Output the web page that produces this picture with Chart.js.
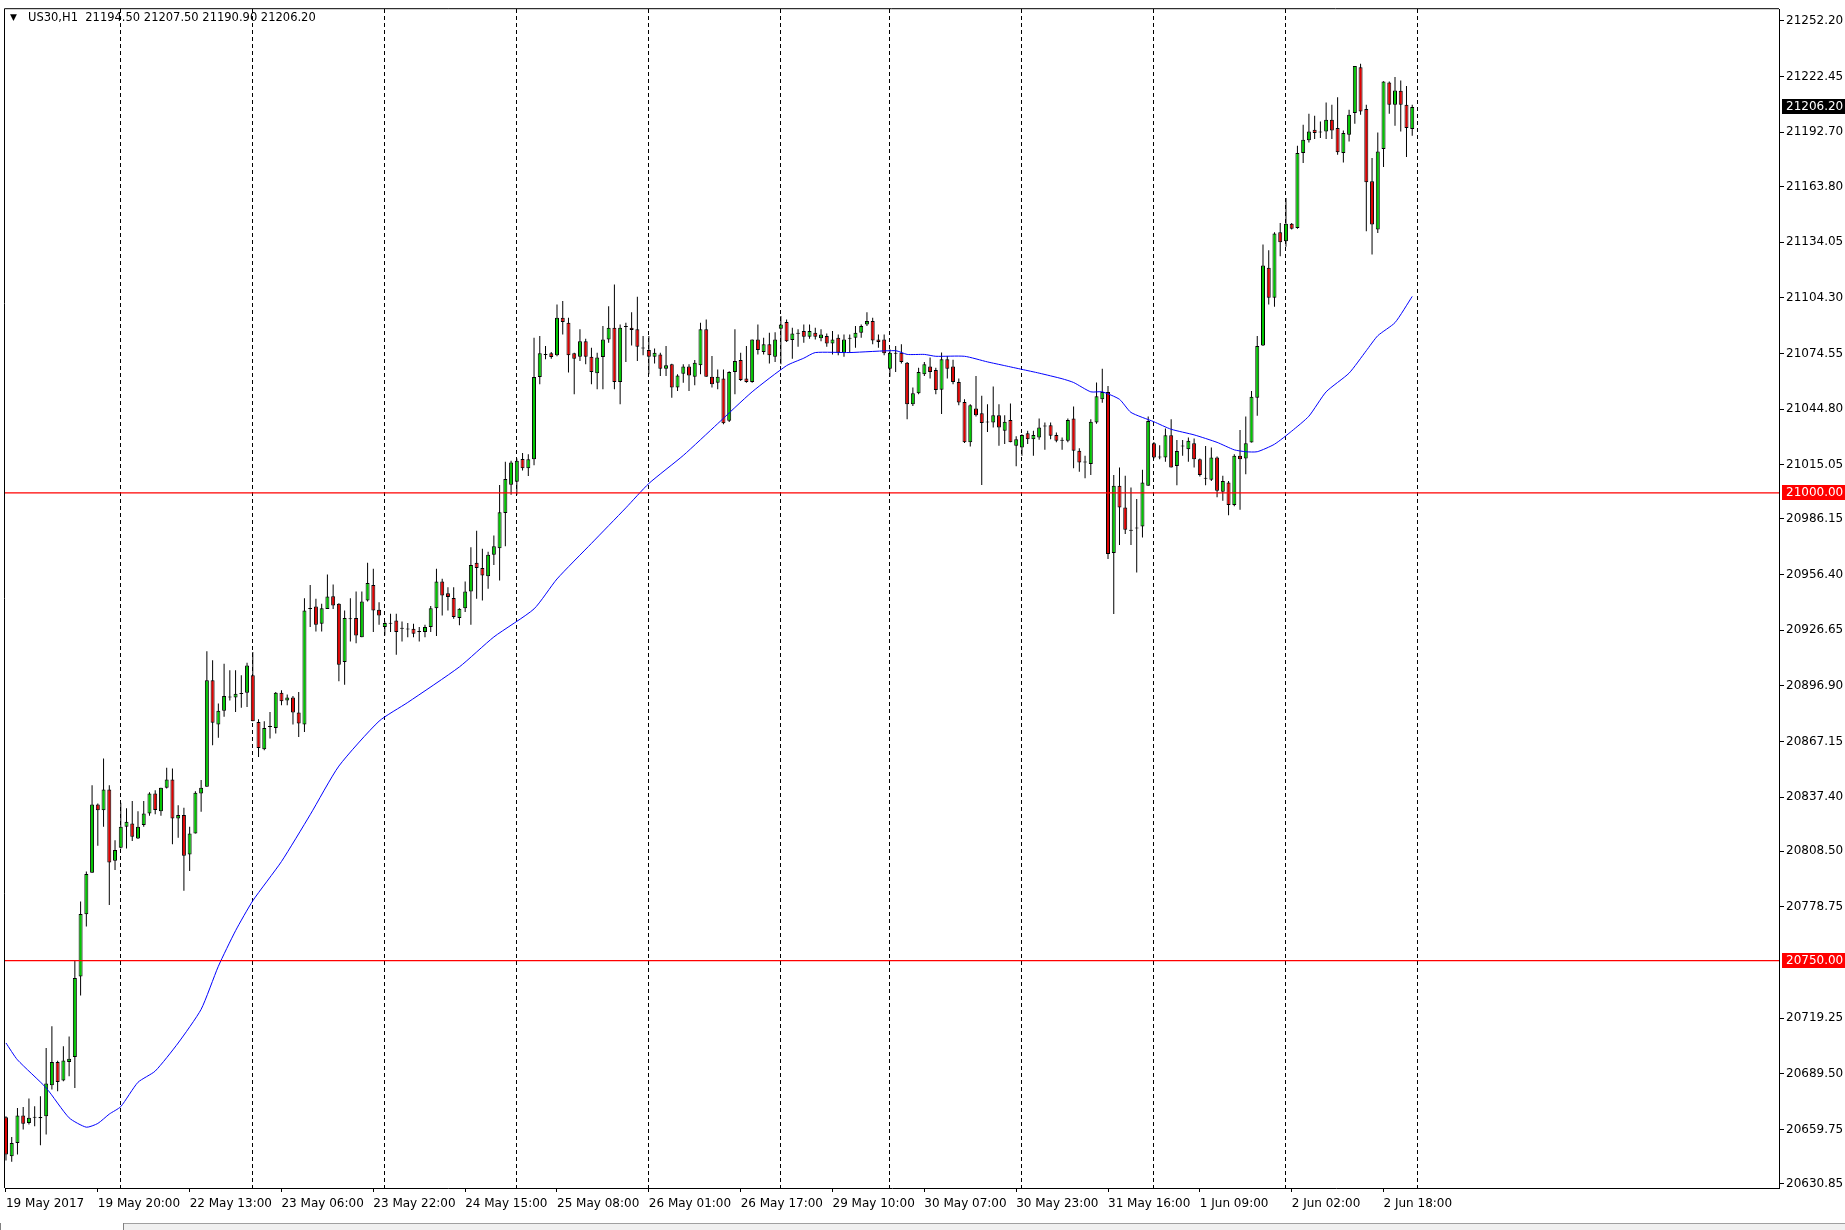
<!DOCTYPE html>
<html><head><meta charset="utf-8">
<script src="https://cdn.jsdelivr.net/npm/chart.js@4.4.1/dist/chart.umd.min.js"></script>
<style>
html,body{margin:0;padding:0;background:#fff;overflow:hidden;}
#wrap{position:relative;width:1845px;height:1230px;}
canvas{position:absolute;left:0;top:0;}
#tabs{position:absolute;left:0;top:1223px;width:1845px;height:7px;background:#f0f0f0;border-top:1px solid #a0a0a0;}
#tab1{position:absolute;left:0;top:1223px;width:122px;height:7px;background:#fff;border:1px solid #808080;border-top:none;}
</style></head><body>
<div id="wrap"><canvas id="c" width="1845" height="1230"></canvas><div id="tabs"></div><div id="tab1"></div></div>
<script>
const symbolTitle = "US30,H1";
const opens = [20666.3,20645.5,20652.6,20667.2,20663.3,20666.0,20666.5,20666.9,20683.4,20695.8,
20685.9,20695.8,20698.5,20741.5,20774.8,20797.0,20833.5,20830.4,20841.5,20803.4,
20810.4,20821.6,20823.3,20815.3,20822.5,20828.7,20839.4,20829.9,20842.4,20846.8,
20826.0,20827.8,20806.8,20818.0,20839.4,20842.9,20899.8,20876.2,20883.5,20890.6,
20890.6,20892.5,20893.2,20902.5,20877.6,20863.0,20874.9,20874.4,20893.2,20889.0,
20890.7,20882.6,20876.2,20938.0,20939.3,20930.0,20938.0,20944.8,20940.7,20909.6,
20932.4,20933.1,20922.9,20942.5,20950.8,20937.5,20928.3,20930.0,20931.8,20927.4,
20927.0,20927.4,20925.6,20925.6,20928.3,20938.4,20952.6,20946.4,20943.8,20933.1,
20938.4,20947.3,20962.6,20959.8,20955.5,20966.9,20970.4,20989.3,21004.4,21006.0,
21018.1,21013.1,21018.0,21061.9,21073.7,21074.6,21073.5,21093.6,21090.9,21074.6,
21072.8,21081.1,21072.8,21063.9,21072.6,21082.0,21088.3,21059.3,21088.6,21088.3,
21087.4,21077.2,21076.3,21072.8,21074.0,21066.4,21068.7,21056.3,21063.7,21067.5,
21062.1,21068.2,21087.4,21062.1,21058.9,21061.1,21038.5,21064.6,21071.0,21061.1,
21059.3,21082.0,21075.3,21079.4,21072.8,21087.7,21091.3,21081.7,21085.1,21086.5,
21083.5,21085.6,21082.6,21083.8,21079.9,21082.9,21074.9,21082.4,21082.9,21085.6,
21090.0,21091.8,21082.0,21082.0,21066.4,21074.4,21074.9,21069.6,21047.4,21053.2,
21063.4,21067.5,21065.7,21055.1,21071.4,21067.5,21059.3,21048.6,21027.0,21045.1,
21042.6,21037.6,21037.6,21041.5,21033.2,21038.9,21025.2,21024.3,21031.9,21028.7,
21029.6,21035.5,21036.2,21030.9,21027.8,21027.8,21039.8,21022.5,21016.3,21015.4,
21037.6,21050.0,21053.9,20967.9,21003.8,20992.2,20979.8,20981.0,20982.1,21003.8,
21026.5,21018.9,21018.9,21030.8,21014.4,21024.8,21023.3,21026.5,21018.0,21007.6,
21007.0,21018.9,21000.6,21005.6,20993.5,21019.8,21018.4,21026.9,21050.9,21078.8,
21120.3,21104.3,21139.3,21134.5,21143.9,21141.6,21181.6,21188.4,21194.1,21192.6,
21193.2,21199.4,21195.0,21181.6,21191.4,21203.0,21227.5,21205.1,21166.5,21140.7,
21183.8,21219.3,21207.4,21214.9,21207.4,21194.5];
const highs = [20666.9,20655.7,20671.3,20671.8,20676.3,20672.2,20677.5,20703.3,20714.9,20696.5,
20704.2,20709.5,20750.4,20781.6,20797.6,20843.8,20834.0,20858.0,20843.8,20814.4,
20834.4,20831.4,20835.3,20829.9,20835.3,20840.0,20841.1,20842.4,20853.1,20852.7,
20833.1,20831.7,20821.6,20840.6,20846.5,20915.3,20910.5,20887.4,20908.7,20905.2,
20905.2,20902.5,20909.2,20914.9,20879.0,20877.9,20882.9,20893.6,20894.5,20892.2,
20891.4,20893.6,20943.7,20950.8,20943.4,20940.7,20956.4,20951.0,20941.0,20937.1,
20943.7,20947.3,20947.3,20962.6,20959.4,20941.6,20931.3,20935.4,20935.4,20931.3,
20930.4,20930.1,20928.3,20929.5,20939.5,20959.4,20954.1,20949.6,20949.6,20938.4,
20952.6,20971.0,20979.8,20970.1,20968.6,20977.2,21004.2,21016.7,21017.2,21018.4,
21021.3,21020.7,21082.9,21083.8,21078.5,21075.3,21100.7,21102.5,21093.6,21074.9,
21087.4,21082.4,21077.6,21074.9,21089.2,21099.8,21111.4,21090.0,21090.9,21096.6,
21104.8,21083.8,21083.8,21077.1,21074.9,21078.5,21069.0,21063.4,21068.7,21068.7,
21071.0,21090.9,21092.7,21073.1,21066.0,21066.0,21065.0,21087.4,21074.9,21078.5,
21082.0,21090.0,21082.9,21085.6,21085.9,21094.5,21092.7,21088.3,21087.4,21090.0,
21090.0,21088.3,21087.4,21085.2,21086.5,21084.7,21084.7,21084.7,21089.2,21090.0,
21096.6,21093.6,21084.7,21084.7,21076.7,21078.5,21079.4,21070.0,21056.3,21066.9,
21069.9,21072.3,21066.9,21075.0,21073.2,21071.1,21061.1,21050.1,21047.4,21062.5,
21051.9,21047.4,21056.8,21047.4,21041.5,21047.8,21030.2,21031.4,21033.2,21033.2,
21039.8,21037.6,21037.6,21032.3,21029.6,21039.8,21046.2,21023.8,21019.8,21039.4,
21059.0,21066.4,21057.1,21009.5,21013.6,21009.1,21002.9,20996.7,21012.3,21040.8,
21027.2,21025.5,21034.4,21039.3,21028.3,21028.3,21029.6,21029.0,21018.4,21025.1,
21024.2,21019.4,21009.1,21006.4,21020.7,21033.6,21040.8,21054.5,21083.8,21132.7,
21129.7,21139.3,21144.3,21157.6,21144.3,21185.5,21196.7,21202.6,21201.5,21198.5,
21208.6,21207.4,21211.5,21193.7,21204.7,21228.2,21229.3,21207.4,21179.0,21192.6,
21220.0,21219.9,21222.2,21220.4,21217.5,21207.5];
const lows = [20643.2,20642.5,20646.4,20659.8,20662.4,20661.5,20651.4,20657.1,20681.1,20680.2,
20685.5,20688.2,20682.0,20731.4,20768.2,20797.0,20811.4,20821.6,20779.8,20798.4,
20810.0,20810.0,20813.9,20815.0,20821.6,20827.4,20828.2,20827.4,20842.0,20812.2,
20815.7,20787.3,20797.9,20818.0,20829.6,20842.9,20865.1,20869.1,20880.3,20889.1,
20882.9,20885.1,20885.6,20877.9,20858.9,20862.5,20868.7,20871.4,20886.5,20886.5,
20876.2,20869.6,20872.2,20928.3,20925.9,20925.9,20938.0,20938.0,20899.3,20897.5,
20920.6,20919.7,20922.9,20942.0,20925.6,20929.5,20923.8,20925.6,20913.5,20920.6,
20922.9,20922.9,20920.6,20922.9,20925.6,20923.5,20934.5,20937.2,20932.7,20929.2,
20936.3,20929.5,20943.4,20942.5,20948.7,20961.5,20953.2,20971.5,20999.0,20999.0,
21011.9,21009.0,21014.8,21058.0,21071.4,21071.7,21073.0,21084.7,21064.3,21052.7,
21070.5,21068.7,21058.0,21055.4,21055.4,21080.3,21055.4,21047.4,21069.9,21078.8,
21070.5,21073.5,21063.4,21069.2,21062.5,21062.5,21050.9,21054.5,21058.9,21054.5,
21057.5,21063.4,21062.0,21056.3,21055.4,21036.7,21037.9,21052.7,21059.8,21058.9,
21058.9,21074.0,21074.0,21069.2,21069.9,21068.7,21080.6,21071.7,21078.1,21080.3,
21082.4,21082.0,21081.1,21078.1,21074.0,21073.5,21072.8,21074.9,21077.6,21082.9,
21089.2,21079.4,21077.6,21073.5,21062.1,21064.6,21069.2,21039.4,21046.5,21052.7,
21062.5,21061.1,21052.7,21042.1,21061.1,21058.1,21046.9,21026.6,21024.8,21040.8,
21004.2,21032.6,21035.0,21025.2,21026.1,21027.0,21014.2,21019.8,21026.1,21019.8,
21028.4,21023.0,21028.7,21027.0,21023.0,21027.0,21013.1,21011.3,21007.8,21009.5,
21037.0,21048.2,20964.7,20935.3,20972.1,20978.0,20972.1,20957.5,20976.2,21003.8,
21018.4,21018.0,21016.6,21013.6,21004.1,21019.8,21016.6,21013.6,21008.8,21004.1,
21006.4,20997.6,20995.8,20988.1,20992.8,20991.0,21010.0,21026.9,21041.2,21078.5,
21100.7,21099.5,21126.5,21131.5,21140.7,21141.1,21176.3,21187.3,21189.1,21189.6,
21189.1,21189.1,21180.7,21176.6,21187.8,21197.3,21202.1,21139.8,21127.4,21138.9,
21174.2,21202.6,21196.2,21193.2,21179.5,21190.9];
const closes = [20646.4,20652.6,20667.2,20662.8,20666.0,20666.3,20665.8,20684.3,20695.8,20685.2,
20696.7,20697.6,20740.7,20775.0,20796.3,20833.5,20830.4,20841.5,20802.5,20809.1,
20821.6,20824.2,20816.2,20821.6,20828.7,20839.4,20830.5,20842.4,20846.8,20826.0,
20827.8,20806.1,20818.0,20839.7,20842.4,20899.8,20877.2,20883.5,20891.5,20890.6,
20892.7,20893.0,20907.8,20877.9,20863.7,20874.4,20874.9,20893.2,20888.6,20890.7,
20882.6,20876.7,20937.1,20938.0,20929.5,20938.4,20944.6,20939.8,20908.2,20933.1,
20932.4,20923.8,20941.9,20951.9,20937.1,20934.5,20930.4,20930.0,20925.6,20927.4,
20927.0,20924.7,20925.6,20928.3,20938.4,20952.6,20945.2,20944.3,20933.6,20938.1,
20947.3,20961.5,20959.8,20955.8,20966.9,20971.5,20989.6,21007.4,21016.3,21017.2,
21013.1,21018.0,21061.9,21074.6,21073.7,21072.6,21093.6,21091.3,21073.5,21071.7,
21081.1,21072.8,21064.6,21072.3,21082.0,21088.3,21059.3,21088.3,21088.6,21087.0,
21078.1,21077.2,21072.8,21074.9,21066.4,21068.2,21056.3,21062.8,21067.5,21062.8,
21069.6,21087.4,21062.1,21058.0,21062.1,21037.2,21064.6,21070.5,21060.3,21059.3,
21082.0,21076.3,21079.4,21073.5,21082.0,21090.0,21081.1,21085.2,21085.1,21083.5,
21086.5,21083.5,21084.7,21079.9,21082.0,21074.9,21082.0,21082.4,21085.6,21089.2,
21091.8,21081.5,21080.6,21074.6,21074.9,21074.4,21069.9,21047.4,21053.2,21064.6,
21068.7,21064.6,21055.0,21071.4,21066.4,21059.3,21048.3,21027.0,21046.9,21041.5,
21037.3,21037.6,21041.5,21035.0,21038.0,21027.0,21028.7,21030.9,21028.7,21030.9,
21035.0,21035.5,21030.5,21027.8,21027.8,21039.0,21022.5,21016.3,21016.3,21038.0,
21051.7,21053.9,20967.3,21003.8,20992.2,20980.3,20979.8,20981.0,21005.6,21038.4,
21018.9,21018.9,21030.8,21013.6,21022.4,21024.8,21027.8,21018.0,21009.5,21007.6,
21018.9,21001.1,21006.4,20993.5,21019.8,21018.0,21026.5,21051.4,21078.5,21121.5,
21104.3,21138.6,21134.0,21143.9,21141.1,21181.6,21188.7,21193.2,21192.3,21192.6,
21199.4,21193.7,21182.0,21192.3,21202.1,21228.2,21203.8,21166.0,21143.4,21182.5,
21219.9,21207.4,21215.1,21207.4,21195.0,21206.2];

// moving average (blue line) read at selected bars
const maBars = [0,2,7,11,14,16,18,20,23,26,30,34,37,40,43,48,53,58,65,70,79,85,92,96,102,108,112,118,124,130,136,139,141,147,155,157,160,162,167,171,174,177,180,184,186,189,191,194,196,200,203,207,211,214,216,218,221,224,227,230,234,237,239,242,245];
const maValues = [20706,20697,20682,20666,20661,20663,20668,20672,20685,20691,20706,20724,20747,20766,20782,20803,20828,20854,20878,20888,20907,20923,20938,20954,20973,20992,21005,21020,21037,21054,21068,21072,21075,21075,21076,21074,21074,21073,21073,21070,21068,21066,21064,21061,21059,21054,21054,21050,21043,21038,21034,21031,21027,21023,21022,21022,21026,21033,21041,21054,21064,21076,21084,21091,21105];

const levels = [21000.00, 20750.00];
const timeLabelBars = [0,16,32,48,64,80,96,112,128,144,160,176,192,208,224,240];
const timeLabels = ["19 May 2017","19 May 20:00","22 May 13:00","23 May 06:00","23 May 22:00","24 May 15:00","25 May 08:00","26 May 01:00","26 May 17:00","29 May 10:00","30 May 07:00","30 May 23:00","31 May 16:00","1 Jun 09:00","2 Jun 02:00","2 Jun 18:00"];
const daySeparatorBars = [20,43,66,89,112,135,154,177,200,223,246];
const priceTicks = [21252.20,21222.45,21192.70,21163.80,21134.05,21104.30,21074.55,21044.80,21015.05,20986.15,20956.40,20926.65,20896.90,20867.15,20837.40,20808.50,20778.75,20719.25,20689.50,20659.75,20630.85];

const X_MIN = -0.17, X_MAX = 308.9;
const Y_MIN = 20628.5, Y_MAX = 21258.5;
const FONT = '"DejaVu Sans", Verdana, sans-serif';
const BULL = '#00c800', BEAR = '#e00000';

const n = closes.length;
const bodies = [], wicks = [], bodyColors = [];
for (let i = 0; i < n; i++) {
  bodies.push({x: i, y: [opens[i], closes[i]]});
  wicks.push({x: i, y: [lows[i], highs[i]]});
  bodyColors.push(closes[i] >= opens[i] ? BULL : BEAR);
}
const maData = maBars.map((b, k) => ({x: b, y: maValues[k]}));
const levelSets = levels.map(v => ({
  type: 'line', data: [{x: X_MIN, y: v}, {x: X_MAX, y: v}],
  borderColor: '#ff0000', borderWidth: 1.3, pointRadius: 0, order: -2
}));

const framePlugin = {
  id: 'frame',
  beforeDatasetsDraw(chart) {
    const {ctx, chartArea: a} = chart;
    ctx.save();
    ctx.strokeStyle = '#000'; ctx.lineWidth = 1;
    ctx.beginPath();
    ctx.moveTo(a.left - 0.5, a.bottom); ctx.lineTo(a.left - 0.5, a.top - 0.5); ctx.lineTo(a.right, a.top - 0.5);
    ctx.stroke();
    ctx.restore();
  }
};
const overlayPlugin = {
  id: 'overlay',
  afterDraw(chart) {
    const {ctx, chartArea: a} = chart;
    const ys = chart.scales.y;
    ctx.save();
    ctx.fillStyle = '#000';
    ctx.textBaseline = 'middle';
    ctx.font = '9px ' + FONT;
    ctx.fillText('\u25BC', 10, 18);
    ctx.font = '11.5px ' + FONT;
    const L = n - 1;
    ctx.fillText(symbolTitle + '  ' + [opens[L], highs[L], lows[L], closes[L]].map(v => v.toFixed(2)).join(' '), 28, 18);
    const marks = [{v: closes[L], bg: '#000'}].concat(levels.map(v => ({v, bg: '#ff0000'})));
    marks.forEach(m => {
      const y = Math.round(ys.getPixelForValue(m.v));
      ctx.fillStyle = m.bg;
      ctx.fillRect(a.right + 3, y - 8, 64, 15);
      ctx.fillStyle = '#fff';
      ctx.font = '12px ' + FONT;
      ctx.textBaseline = 'middle';
      ctx.fillText(m.v.toFixed(2), a.right + 7, y);
    });
    ctx.restore();
  }
};

new Chart(document.getElementById('c'), {
  type: 'bar',
  data: {
    datasets: [
      {type: 'line', label: 'MA', data: maData, borderColor: '#0000ff', borderWidth: 1, pointRadius: 0, tension: 0.2, order: -1},
      ...levelSets,
      {label: 'body', data: bodies, backgroundColor: bodyColors, borderColor: '#000', borderWidth: 1,
       borderSkipped: false, barThickness: 4, minBarLength: 1, grouped: false, inflateAmount: 0, order: 1},
      {label: 'wick', data: wicks, backgroundColor: '#000', borderWidth: 0,
       barThickness: 1, grouped: false, inflateAmount: 0, order: 2}
    ]
  },
  options: {
    responsive: false, animation: false, devicePixelRatio: 1, events: [],
    layout: {padding: {left: 5, top: 5, right: 0, bottom: 0}},
    plugins: {legend: {display: false}, tooltip: {enabled: false}, title: {display: false}},
    scales: {
      x: {
        type: 'linear', position: 'bottom', min: X_MIN, max: X_MAX, offset: false,
        afterBuildTicks: s => { s.ticks = timeLabelBars.map(v => ({value: v})); },
        afterFit: s => { s.height = 42; },
        ticks: {autoSkip: false, maxRotation: 0, align: 'start', padding: 5, color: '#000',
                font: {family: FONT, size: 12}, callback: (v, i) => timeLabels[i]},
        grid: {offset: false, drawOnChartArea: false, drawTicks: true, tickLength: 4, color: '#000'},
        border: {display: true, color: '#000', width: 1}
      },
      x2: {
        type: 'linear', position: 'top', min: X_MIN, max: X_MAX, offset: false,
        afterBuildTicks: s => { s.ticks = daySeparatorBars.map(v => ({value: v})); },
        afterFit: s => { s.height = 0; },
        ticks: {display: false},
        grid: {offset: false, drawOnChartArea: true, drawTicks: false, color: '#000', lineWidth: 1},
        border: {display: false, dash: [4, 3]}
      },
      y: {
        type: 'linear', position: 'right', min: Y_MIN, max: Y_MAX,
        afterBuildTicks: s => { s.ticks = priceTicks.map(v => ({value: v})); },
        afterFit: s => { s.width = 66; },
        ticks: {padding: 2, color: '#000', font: {family: FONT, size: 12}, callback: v => Number(v).toFixed(2)},
        grid: {drawOnChartArea: false, drawTicks: true, tickLength: 5, color: '#000'},
        border: {display: true, color: '#000', width: 1}
      }
    }
  },
  plugins: [framePlugin, overlayPlugin]
});
</script>
</body></html>
